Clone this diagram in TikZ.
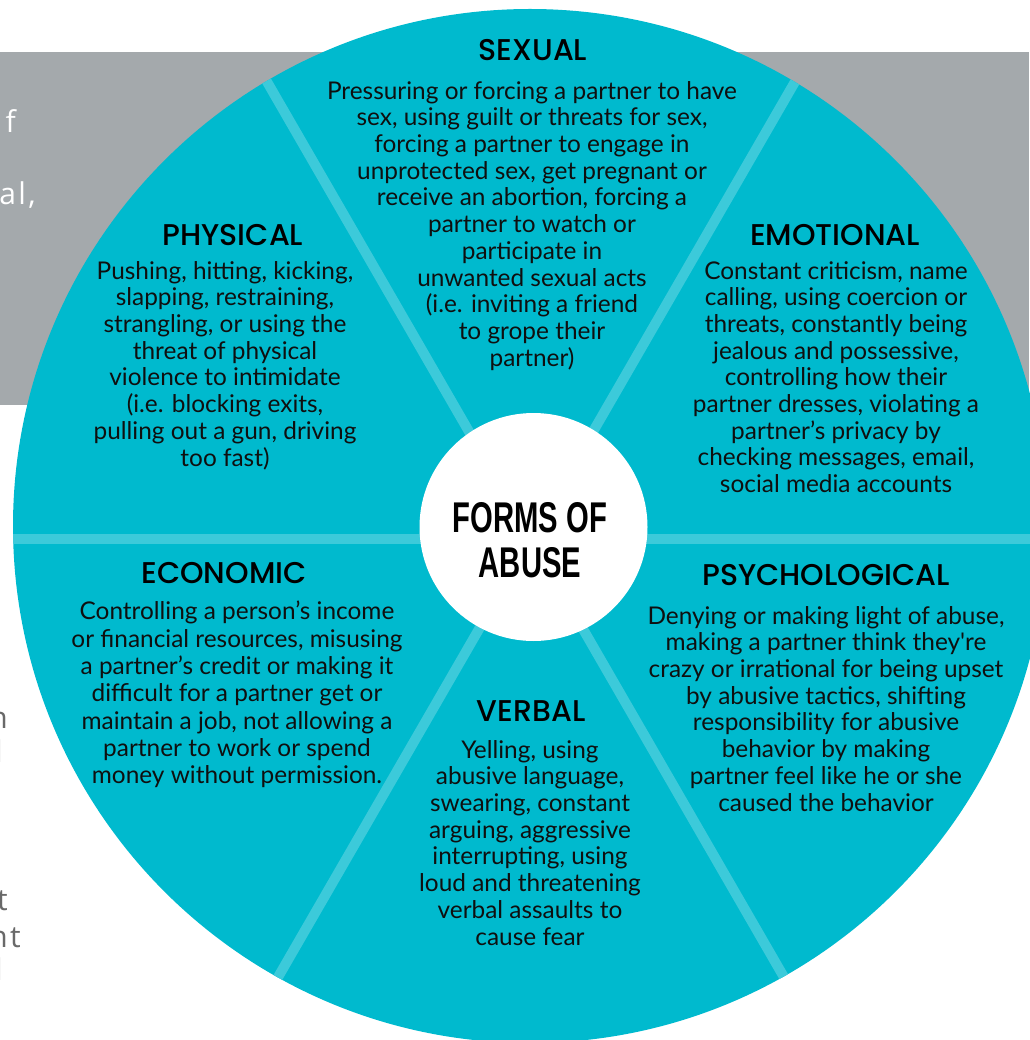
\documentclass[tikz,border=0pt]{standalone}
\usepackage{fontspec}
\setmainfont{Lato}
\newfontfamily\headfont{Poppins}[UprightFont=* Medium]
\newfontfamily\condfont{Liberation Sans}[FakeStretch=0.68]
\newfontfamily\bgfont{Open Sans}[LetterSpace=8]
\definecolor{cyanc}{RGB}{0,186,206}
\definecolor{spokec}{RGB}{60,202,218}
\definecolor{greyc}{RGB}{164,169,172}
\definecolor{bodyc}{RGB}{15,15,15}
\definecolor{bgtextc}{RGB}{105,105,105}
\begin{document}
\begin{tikzpicture}[x=1pt,y=-1pt,
  head/.style={font=\headfont\fontsize{30}{34}\selectfont, text=black, inner sep=0pt},
  body/.style={font=\fontsize{24.4}{26.7}\selectfont, text=bodyc, align=center, inner sep=0pt, anchor=north},
  spoke/.style={draw=spokec, line width=10pt},
  bgtext/.style={font=\bgfont\fontsize{30}{36}\selectfont, inner sep=0pt, anchor=base east}]
\useasboundingbox (0,0) rectangle (1029,1040);
% background panel and cut-off text
\fill[greyc] (0,52) rectangle (1029,405);
\node[bgtext, text=white] (bg1) at (16,133) {f};
\node[bgtext, text=white] (bg2) at (36,205) {al,};
\node[bgtext, text=bgtextc] (bg3) at (8,728) {n};
\node[bgtext, text=bgtextc] (bg4) at (3,762) {d};
\node[bgtext, text=bgtextc] (bg5) at (8,910) {t};
\node[bgtext, text=bgtextc] (bg6) at (21,947) {nt};
\node[bgtext, text=bgtextc] (bg7) at (3,980) {d};
% wheel
\fill[cyanc] (530,526) circle[radius=517pt];
\begin{scope}
  \clip (530,526) circle[radius=517pt];
  \coordinate (hub) at (531,539);
  \draw[spoke] (hub) -- ++(-700,0);
  \draw[spoke] (hub) -- ++(700,0);
  \draw[spoke] (hub) -- ++(-350,-606.2);
  \draw[spoke] (hub) -- ++(350,-606.2);
  \draw[spoke] (hub) -- ++(-350,606.2);
  \draw[spoke] (hub) -- ++(350,606.2);
\end{scope}
\fill[white] (533.5,527) circle[radius=114pt];
\node[align=center, inner sep=0pt, font=\condfont\bfseries\fontsize{43}{45}\selectfont] (center) at (530,540) {FORMS OF\\ABUSE};
% headings
\node[head] (hsex) at (533,50) {SEXUAL};
\node[head] (hphy) at (233,235) {PHYSICAL};
\node[head] (hemo) at (835,235) {EMOTIONAL};
\node[head] (heco) at (224,573) {ECONOMIC};
\node[head] (hpsy) at (826,575) {PSYCHOLOGICAL};
\node[head] (hver) at (531,711) {VERBAL};
% bodies
\node[body] (bsex) at (532,81) {Pressuring or forcing a partner to have\\sex, using guilt or threats for sex,\\forcing a partner to engage in\\unprotected sex, get pregnant or\\receive an abortion, forcing a\\partner to watch or\\participate in\\unwanted sexual acts\\(i.e. inviting a friend\\to grope their\\partner)};
\node[body] (bphy) at (225,261) {Pushing, hitting, kicking,\\slapping, restraining,\\strangling, or using the\\threat of physical\\violence to intimidate\\(i.e. blocking exits,\\pulling out a gun, driving\\too fast)};
\node[body] (bemo) at (836,261) {Constant criticism, name\\calling, using coercion or\\threats, constantly being\\jealous and possessive,\\controlling how their\\partner dresses, violating a\\partner’s privacy by\\checking messages, email,\\social media accounts};
\node[body, font=\fontsize{24.4}{27.3}\selectfont] (beco) at (237,601) {Controlling a person’s income\\or financial resources, misusing\\a partner’s credit or making it\\difficult for a partner get or\\maintain a job, not allowing a\\partner to work or spend\\money without permission.};
\node[body] (bpsy) at (826,606) {Denying or making light of abuse,\\making a partner think they\textquotesingle re\\crazy or irrational for being upset\\by abusive tactics, shifting\\responsibility for abusive\\behavior by making\\partner feel like he or she\\caused the behavior};
\node[body] (bver) at (530,740) {Yelling, using\\abusive language,\\swearing, constant\\arguing, aggressive\\interrupting, using\\loud and threatening\\verbal assaults to\\cause fear};
\end{tikzpicture}
\end{document}
